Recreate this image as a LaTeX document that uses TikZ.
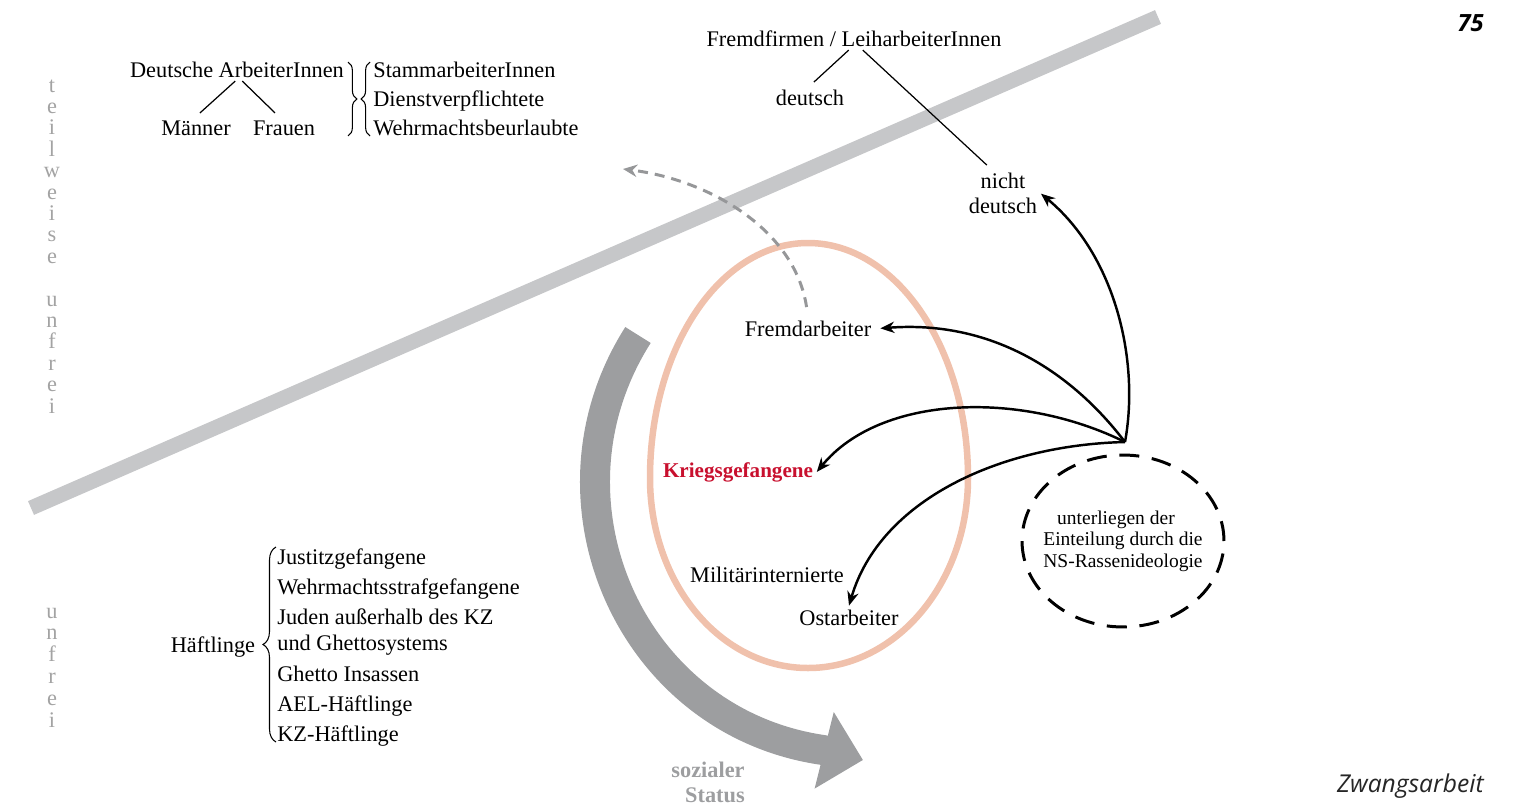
\documentclass[tikz,border=0pt]{standalone}
\usepackage{fontspec}
\setmainfont{Liberation Serif}
\newfontfamily\seitenfont{Open Sans}
\usetikzlibrary{arrows.meta,decorations.pathreplacing,shapes.geometric}

\definecolor{balkengrau}{RGB}{198,199,201}
\definecolor{statusgrau}{RGB}{157,158,160}
\definecolor{pfeilgrau}{RGB}{150,151,153}
\definecolor{eirosa}{RGB}{240,193,172}
\definecolor{kriegrot}{RGB}{200,16,46}
\definecolor{buchstabengrau}{RGB}{163,163,163}

\tikzset{
  txt/.style={font=\fontsize{12.7}{15}\selectfont, inner sep=2pt},
  kriegtxt/.style={font=\fontsize{12}{15}\selectfont\bfseries, text=kriegrot, inner sep=2pt},
  statustxt/.style={font=\fontsize{12.7}{15}\selectfont\bfseries, text=statusgrau, inner sep=2pt},
  kleintxt/.style={font=\fontsize{11.1}{12.2}\selectfont, align=center, inner sep=0pt},
  ast/.style={line width=0.7pt, shorten >=3pt},
  klammer/.style={decorate, decoration={brace, amplitude=#1}, line width=0.6pt},
  klammer/.default=5pt,
  zuordnung/.style={line width=1.4pt, -{Stealth[length=8pt, width=6.5pt]}},
}

\begin{document}
\begin{tikzpicture}[x=0.02cm, y=-0.02cm]
\useasboundingbox (0,0) rectangle (1522,805);

% Grenze
\draw[line width=0.3cm, balkengrau] (31,508) -- (1158,17);

% Randbeschriftung
\foreach \ch [count=\k from 0] in {t,e,i,l,w,e,i,s,e,{},u,n,f,r,e,i}
  \node[txt, text=buchstabengrau, anchor=base] (tw\k) at (52, {92+21.4*\k}) {\ch};
\foreach \ch [count=\k from 0] in {u,n,f,r,e,i}
  \node[txt, text=buchstabengrau, anchor=base] (uf\k) at (52, {618+21.8*\k}) {\ch};

% Deutsche ArbeiterInnen
\node[txt, anchor=base] (deutsche) at (237,77) {Deutsche ArbeiterInnen};
\node[txt, anchor=base] (maenner) at (196,135) {Männer};
\node[txt, anchor=base] (frauen) at (284,135) {Frauen};
\draw[ast] ([xshift=-1pt]deutsche.south) -- (maenner.north);
\draw[ast] ([xshift=3pt]deutsche.south) -- ([xshift=-3pt]frauen.north);
\draw[klammer] (348,62) -- (348,136);
\draw[klammer] (370,136) -- (370,62);
\foreach \txt/\yy [count=\i] in {StammarbeiterInnen/77, Dienstverpflichtete/106, Wehrmachtsbeurlaubte/135}
  \node[txt, anchor=base west, inner sep=0pt] (stamm\i) at (373,\yy) {\txt};

% Fremdfirmen
\node[txt, anchor=base] (fremdfirmen) at (854,46) {Fremdfirmen / LeiharbeiterInnen};
\node[txt, anchor=base] (fdeutsch) at (810,105) {deutsch};
\node[txt, anchor=base] (nicht) at (1003,188) {nicht};
\node[txt, anchor=base] (ndeutsch) at (1003,213) {deutsch};
\draw[ast] ([xshift=-3pt]fremdfirmen.south) -- (fdeutsch.north);
\draw[ast] ([xshift=5pt]fremdfirmen.south) -- ([xshift=-7pt]nicht.north);

% Haeftlinge
\node[txt, anchor=base] (haeft) at (213,652) {Häftlinge};
\draw[klammer=7.4pt] (276,742) -- (276,547);
\foreach \txt/\yy [count=\i] in {Justitzgefangene/564, Wehrmachtsstrafgefangene/594, Juden außerhalb des KZ/624, und Ghettosystems/650, Ghetto Insassen/681, AEL-Häftlinge/711, KZ-Häftlinge/741}
  \node[txt, anchor=base west, inner sep=0pt] (haeft\i) at (277,\yy) {\txt};

% sozialer Status
\coordinate (statusanfang) at (638,335);
\coordinate (statusknick) at (823,750);
\coordinate (statusspitze) at (863,760);
\draw[statusgrau, line width=0.6cm, -{Triangle[length=0.8cm, width=1.53cm]}]
  (statusanfang) .. controls (533,500) and (630,722) .. (statusknick) -- (statusspitze);
\node[statustxt, anchor=base] (sozial) at (708,777) {sozialer};
\node[statustxt, anchor=base] (status) at (715,802) {Status};

% Ei
\draw[line width=0.13cm, eirosa] (968,478) .. controls (968,348) and (896,243) .. (808,243)
  .. controls (720,243) and (650,348) .. (650,478)
  .. controls (650,583) and (720,668) .. (808,668)
  .. controls (896,668) and (968,583) .. cycle;

\node[txt, anchor=base] (fremd) at (808,336) {Fremdarbeiter};
\node[kriegtxt, anchor=base] (krieg) at (738,477) {Kriegsgefangene};
\node[txt, anchor=base] (militaer) at (767,582) {Militärinternierte};
\node[txt, anchor=base] (ost) at (849,625) {Ostarbeiter};

% Rassenideologie
\node[draw, ellipse, line width=1.7pt, dash pattern=on 0.4cm off 0.254cm,
  minimum width=4.04cm, minimum height=3.44cm, inner sep=0pt] (rasse) at (1123,541) {};
\node[kleintxt] (rassetext) at (rasse.center) {unterliegen der\hspace*{8pt}\\Einteilung durch die\\NS-Rassenideologie};

\coordinate (quelle) at (1125,442);
\draw[zuordnung] (quelle) .. controls (1140,360) and (1115,255) .. (ndeutsch.north east);
\draw[zuordnung] (quelle) .. controls (1070,370) and (990,320) .. ([xshift=3pt]fremd.east);
\draw[zuordnung] (quelle) .. controls (1020,390) and (880,395) .. (krieg.east);
\draw[zuordnung] (quelle) .. controls (1000,445) and (880,500) .. (ost.north);

% Aufstieg
\coordinate (aufstieg) at (623,169);
\draw[pfeilgrau, line width=1.7pt, dash pattern=on 0.2cm off 0.14cm, shorten <=5.5pt,
  -{Stealth[length=8pt, width=7pt]}] (fremd.north) .. controls (795,230) and (710,180) .. (aufstieg);

% Seite
\node[anchor=base east, font=\seitenfont\fontsize{13.5}{15}\selectfont\bfseries\itshape, inner sep=0pt] (seite) at (1484,31) {75};
\node[anchor=base east, font=\seitenfont\fontsize{14}{16}\selectfont\itshape, inner sep=0pt, text=black!85] (kapitel) at (1484,792) {Zwangsarbeit};
\end{tikzpicture}
\end{document}
